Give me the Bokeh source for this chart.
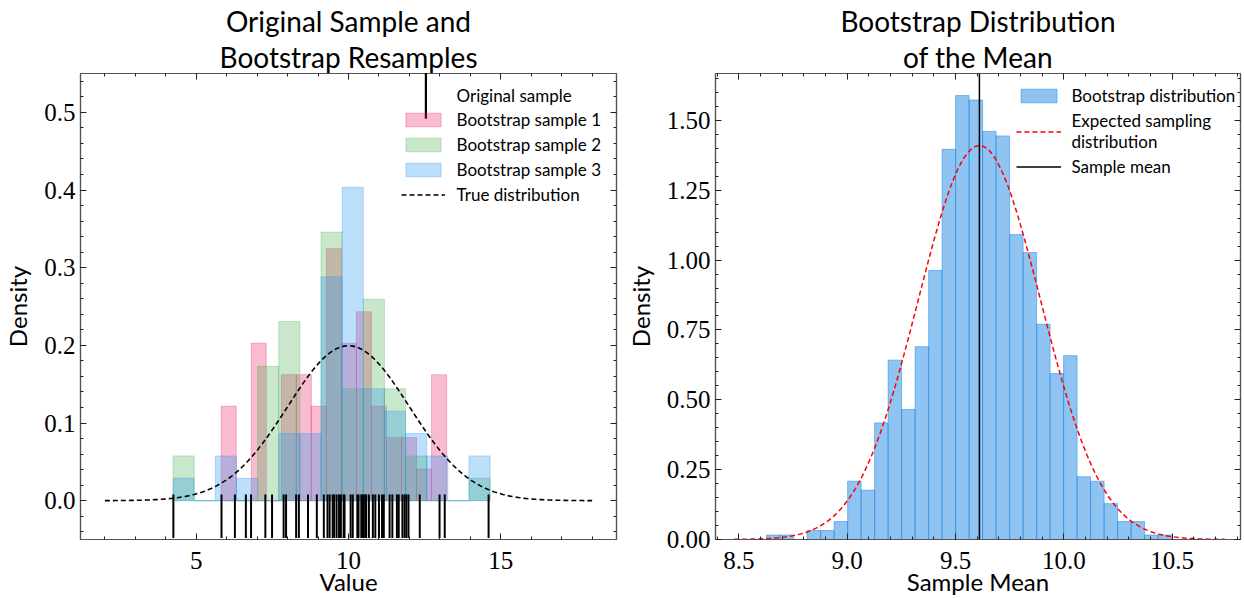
import numpy as np
from bokeh.plotting import figure
from bokeh.models import (Range1d, LinearAxis, Legend, LegendItem, Title,
                          SingleIntervalTicker, NumeralTickFormatter)
from bokeh.layouts import row
from bokeh.embed import file_html
from bokeh.resources import INLINE

# ---------------- data ----------------
original_sample = [4.25, 5.83, 6.27, 6.63, 6.80, 7.27, 7.49, 7.87, 7.95, 8.28,
                   8.37, 8.67, 8.96, 9.19, 9.31, 9.38, 9.48, 9.53, 9.61, 9.69,
                   9.75, 9.84, 9.87, 10.07, 10.14, 10.29, 10.33, 10.42, 10.46, 10.50,
                   10.55, 10.58, 10.67, 10.80, 10.88, 11.00, 11.10, 11.16, 11.35, 11.44,
                   11.59, 11.65, 11.77, 11.84, 11.90, 11.97, 12.34, 12.99, 13.16, 14.60]

boot1_span = [5.82, 13.22]
boot1_counts = [3, 0, 5, 0, 4, 4, 3, 8, 5, 6, 3, 2, 2, 1, 4]
boot23_span = [4.24, 14.65]
boot2_counts = [2, 0, 0, 0, 6, 8, 0, 12, 5, 9, 5, 2, 0, 0, 1]
boot3_counts = [1, 0, 2, 1, 0, 3, 3, 10, 14, 5, 4, 3, 2, 0, 2]

true_mean = 10.0
true_sd = 2.0
true_x_span = [2.0, 18.0]

bootmean_span = [8.628, 10.497]
bootmean_counts = [1, 1, 0, 2, 2, 4, 13, 11, 26, 40, 29, 43, 60, 87, 99,
                   98, 91, 90, 68, 64, 48, 37, 41, 14, 13, 8, 4, 4, 1, 1]
n_boot = 1000
sample_mean_line = 9.61      # position of the "Sample mean" line
expected_se = 0.283          # spread of the expected sampling distribution

# ---------------- style ----------------
SANS = "Lato"
SERIF = "Liberation Serif"
PINK, GREEN, BLUE = "#E91E63", "#4CAF50", "#2196F3"
HISTBLUE = "#1E88E5"


def style_axis(ax, labels=True):
    ax.major_tick_in = 6
    ax.major_tick_out = 0
    ax.minor_tick_in = 3
    ax.minor_tick_out = 0
    ax.major_tick_line_color = "#222222"
    ax.minor_tick_line_color = "#222222"
    ax.axis_line_color = "#555555"
    ax.axis_line_width = 1.2
    ax.major_label_text_font = SERIF
    ax.major_label_text_font_size = "25px"
    ax.major_label_text_color = "black"
    ax.axis_label_text_font = SANS
    ax.axis_label_text_font_size = "24px"
    ax.axis_label_text_font_style = "normal"
    ax.axis_label_text_color = "black"
    ax.major_label_standoff = 5
    ax.axis_label_standoff = 0
    if not labels:
        ax.major_label_text_font_size = "0px"
        ax.major_label_standoff = 0
        ax.axis_label = None


def make_fig(width, xr, yr, border_left, border_right, xint, yint, xfmt, yfmt,
             title_lines, xlabel):
    p = figure(width=width, height=598, x_range=Range1d(*xr), y_range=Range1d(*yr),
               output_backend="svg", toolbar_location=None, title=None,
               min_border_left=border_left, min_border_right=border_right,
               min_border_top=73, min_border_bottom=0)
    p.grid.visible = False
    p.outline_line_color = "#555555"
    p.outline_line_width = 1.2
    p.background_fill_color = "white"
    p.border_fill_color = "white"
    xt = SingleIntervalTicker(interval=xint, num_minor_ticks=5)
    yt = SingleIntervalTicker(interval=yint, num_minor_ticks=5)
    p.xaxis.ticker = xt
    p.yaxis.ticker = yt
    p.xaxis.formatter = NumeralTickFormatter(format=xfmt)
    p.yaxis.formatter = NumeralTickFormatter(format=yfmt)
    p.xaxis.axis_label = xlabel
    p.yaxis.axis_label = "Density"
    style_axis(p.xaxis[0])
    style_axis(p.yaxis[0])
    p.xaxis[0].major_label_standoff = 12
    p.xaxis[0].axis_label_standoff = -5
    p.yaxis[0].axis_label_standoff = 9
    top = LinearAxis(ticker=xt)
    right = LinearAxis(ticker=yt)
    style_axis(top, labels=False)
    style_axis(right, labels=False)
    p.add_layout(top, "above")
    p.add_layout(right, "right")
    for line in reversed(title_lines):
        p.add_layout(Title(text=line, align="center", text_font=SANS,
                           text_font_size="28px", text_font_style="normal",
                           text_color="black", standoff=0), "above")
    return p


# ---------------- left panel ----------------
n = len(original_sample)
p1 = make_fig(620, (1.2, 18.8), (-0.05, 0.55), 80, 4, 5, 0.1, "0", "0.0",
              ["Original Sample and", "Bootstrap Resamples"], "Value")

hist_renderers = []
for counts, span, col in [(boot1_counts, boot1_span, PINK),
                          (boot2_counts, boot23_span, GREEN),
                          (boot3_counts, boot23_span, BLUE)]:
    edges = np.linspace(span[0], span[1], len(counts) + 1)
    dens = np.array(counts) / (n * np.diff(edges))
    r = p1.quad(left=edges[:-1], right=edges[1:], bottom=0, top=dens,
                fill_color=col, fill_alpha=0.3, line_color=col, line_alpha=0.3,
                line_width=1)
    hist_renderers.append(r)

xs = np.linspace(true_x_span[0], true_x_span[1], 400)
pdf = np.exp(-0.5 * ((xs - true_mean) / true_sd) ** 2) / (true_sd * np.sqrt(2 * np.pi))
true_r = p1.line(xs, pdf, line_color="black", line_dash="5 3", line_width=1.6)

rug_r = p1.vbar(x=original_sample, width=0.065, bottom=-0.048, top=0.008,
                fill_color="black", line_color=None)

LEG = dict(padding=0, margin=0, border_line_alpha=0, background_fill_alpha=0,
           label_text_font=SANS, label_text_color="black")
leg_rug = Legend(items=[LegendItem(label="Original sample", renderers=[rug_r])],
                 location=(343.5, 415), glyph_width=3, glyph_height=58, label_standoff=30,
                 label_text_font_size="17px", label_height=25, **LEG)
leg_main = Legend(items=[LegendItem(label="Bootstrap sample 1", renderers=[hist_renderers[0]]),
                         LegendItem(label="Bootstrap sample 2", renderers=[hist_renderers[1]]),
                         LegendItem(label="Bootstrap sample 3", renderers=[hist_renderers[2]]),
                         LegendItem(label="True distribution", renderers=[true_r])],
                  location=(320.6, 332.5), glyph_width=44, glyph_height=17, label_standoff=12,
                  spacing=0, label_text_font_size="17px", label_height=25, **LEG)
p1.add_layout(leg_rug)
p1.add_layout(leg_main)

# ---------------- right panel ----------------
p2 = make_fig(622, (8.392, 10.815), (0, 1.668), 95, 2, 0.5, 0.25, "0.0", "0.00",
              ["Bootstrap Distribution", "of the Mean"], "Sample Mean")

bedges = np.linspace(bootmean_span[0], bootmean_span[1], len(bootmean_counts) + 1)
bdens = np.array(bootmean_counts) / (n_boot * np.diff(bedges))
bh = p2.quad(left=bedges[:-1], right=bedges[1:], bottom=0, top=bdens,
             fill_color=HISTBLUE, fill_alpha=0.5, line_color=HISTBLUE, line_alpha=0.5,
             line_width=1)

m = sample_mean_line
se = expected_se
xm = np.linspace(m - 4 * se, m + 4 * se, 300)
pm = np.exp(-0.5 * ((xm - m) / se) ** 2) / (se * np.sqrt(2 * np.pi))
exp_r = p2.line(xm, pm, line_color="red", line_dash="5 3", line_width=1.5)
mean_r = p2.ray(x=[m], y=[0], length=0, angle=np.pi / 2, line_color="black", line_width=1.5)

leg2 = Legend(items=[LegendItem(label="Bootstrap distribution", renderers=[bh]),
                     LegendItem(label="Expected sampling\ndistribution", renderers=[exp_r]),
                     LegendItem(label="Sample mean", renderers=[mean_r])],
              location=(300.5, 360), glyph_width=45, glyph_height=17, label_standoff=11,
              spacing=2, label_text_font_size="17px", label_height=25,
              label_text_line_height=1.05, **LEG)
p2.add_layout(leg2)

layout = row(p1, p2)
open("out.html", "w").write(file_html(layout, INLINE))
